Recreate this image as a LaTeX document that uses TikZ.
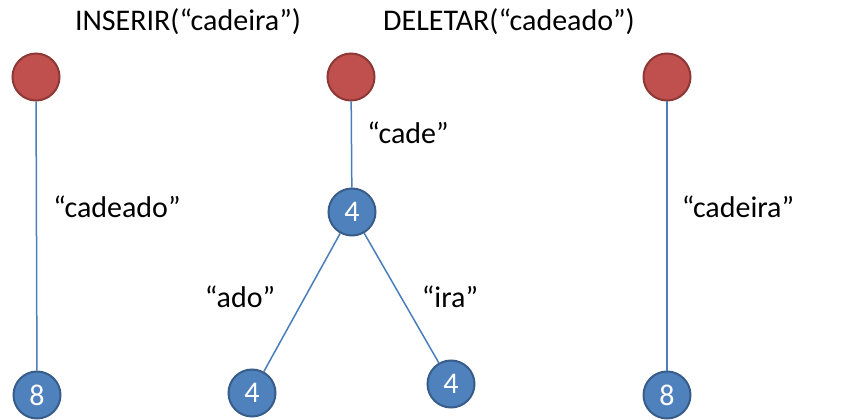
\documentclass[tikz,border=0pt]{standalone}
\usepackage{fontspec}
\setmainfont{Carlito}
\definecolor{redfill}{HTML}{C0504D}
\definecolor{redline}{HTML}{8C3836}
\definecolor{bluefill}{HTML}{4F81BD}
\definecolor{blueline}{HTML}{385D8A}
\definecolor{edgecol}{HTML}{4A7EBB}
\begin{document}
\begin{tikzpicture}[x=1pt,y=-1pt,
  rootnode/.style={circle,fill=redfill,draw=redline,line width=2pt,minimum size=47pt,inner sep=0pt},
  leafnode/.style={circle,fill=bluefill,draw=blueline,line width=2pt,minimum size=47pt,inner sep=0pt,text=white,font=\fontsize{30}{32}\selectfont},
  lbl/.style={font=\fontsize{30}{32}\selectfont,inner sep=0pt},
  edge/.style={draw=edgecol,line width=1.5pt}]
\useasboundingbox (0,0) rectangle (844,420);
\node[lbl] (t1) at (188,22) {INSERIR(“cadeira”)};
\node[lbl] (t2) at (509,22) {DELETAR(“cadeado”)};
\node[rootnode] (r1) at (36,77) {};
\node[rootnode] (r2) at (351,77) {};
\node[rootnode] (r3) at (667,77) {};
\node[leafnode] (b1) at (37,395) {8};
\node[leafnode] (m) at (352,212) {4};
\node[leafnode] (l) at (252,393) {4};
\node[leafnode] (r) at (451,384) {4};
\node[leafnode] (b3) at (667,395) {8};
\draw[edge] (r1) -- (b1);
\draw[edge] (r2) -- (m);
\draw[edge] (m) -- (l);
\draw[edge] (m) -- (r);
\draw[edge] (r3) -- (b3);
\node[lbl] (c1) at (117,207) {“cadeado”};
\node[lbl] (c2) at (408,133) {“cade”};
\node[lbl] (c3) at (240,297) {“ado”};
\node[lbl] (c4) at (450,297) {“ira”};
\node[lbl] (c5) at (738,207) {“cadeira”};
\end{tikzpicture}
\end{document}
